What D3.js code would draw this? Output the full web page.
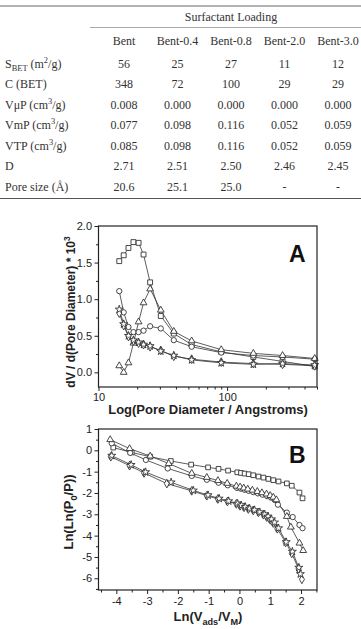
<!DOCTYPE html>
<html>
<head>
<meta charset="utf-8">
<script src="https://cdn.jsdelivr.net/npm/d3@7"></script>
<style>
body { margin: 0; background: #fff; }
svg { display: block; }
.tbl { font-family: "Liberation Serif", "DejaVu Serif", "Times New Roman", serif; font-size: 12px; fill: #333; }
.ax text { font-family: "Liberation Sans", Arial, sans-serif; font-size: 11px; fill: #222; }
.ax path { display: none; }
.ax line { stroke: #222; }
.ttl { font-family: "Liberation Sans", Arial, sans-serif; font-weight: bold; font-size: 13px; fill: #222; }
.tag { font-family: "Liberation Sans", Arial, sans-serif; font-weight: bold; font-size: 23px; fill: #111; }
</style>
</head>
<body>
<script>

// ---- table data ----
var tableCols = ["Bent", "Bent-0.4", "Bent-0.8", "Bent-2.0", "Bent-3.0"]
var tableRows = ["S_{BET} (m^{2}/g)", "C (BET)", "VμP (cm^{3}/g)", "VmP (cm^{3}/g)", "VTP (cm^{3}/g)", "D", "Pore size (Å)"]
var tableValues = [
    ["56", "25", "27", "11", "12"],
    ["348", "72", "100", "29", "29"],
    ["0.008", "0.000", "0.000", "0.000", "0.000"],
    ["0.077", "0.098", "0.116", "0.052", "0.059"],
    ["0.085", "0.098", "0.116", "0.052", "0.059"],
    ["2.71", "2.51", "2.50", "2.46", "2.45"],
    ["20.6", "25.1", "25.0", "-", "-"]
]

// ---- panel A: pore size distribution ----
var poreDiameter = [14.5, 15.7, 17.1, 18.7, 20.5, 22.4, 25.2, 30.5, 38.5, 53, 90, 160, 270, 480]
var psdSquare   = [1.52, 1.60, 1.70, 1.78, 1.77, 1.61, 1.23, 0.77, 0.53, 0.38, 0.28, 0.21, 0.15, 0.08]
var psdCircle   = [1.11, 0.82, 0.62, 0.55, 0.55, 0.57, 0.63, 0.60, 0.44, 0.35, 0.27, 0.23, 0.21, 0.18]
var psdTriangle = [0.09, 0.00, 0.13, 0.40, 0.69, 0.95, 1.14, 0.85, 0.56, 0.43, 0.31, 0.26, 0.23, 0.19]
var psdDiamond  = [0.81, 0.64, 0.49, 0.43, 0.40, 0.38, 0.35, 0.30, 0.22, 0.18, 0.14, 0.12, 0.11, 0.09]
var psdStar     = [0.86, 0.66, 0.50, 0.44, 0.41, 0.38, 0.36, 0.29, 0.23, 0.17, 0.13, 0.11, 0.12, 0.10]
var xTicksA = [10, 100]
var xMinorA = [20, 30, 40, 50, 60, 70, 80, 90, 200, 300, 400, 500]
var yTicksA = [0, 0.5, 1.0, 1.5, 2.0]
var yMinorA = [0.25, 0.75, 1.25, 1.75]

// ---- panel B: FHH plot ----
var fhhSquareX = [-4.1, -3.5, -2.9, -2.23, -1.57, -1.02, -0.68, -0.37, -0.07, 0.05, 0.17, 0.3, 0.45, 0.62, 0.78, 0.94, 1.1, 1.27, 1.54, 1.7, 1.95, 2.05]
var fhhSquareY = [0.13, -0.1, -0.3, -0.5, -0.67, -0.8, -0.87, -0.95, -1.03, -1.06, -1.09, -1.12, -1.17, -1.23, -1.28, -1.34, -1.4, -1.46, -1.55, -1.66, -1.98, -2.25]
var fhhCircleX = [-4.15, -3.55, -3.04, -2.33, -1.55, -1.06, -0.68, -0.38, -0.08, 0.05, 0.17, 0.3, 0.45, 0.6, 0.75, 0.9, 1.03, 1.15, 1.25, 1.54, 1.73, 1.95, 2.05]
var fhhCircleY = [0.33, -0.12, -0.45, -0.85, -1.2, -1.38, -1.52, -1.64, -1.76, -1.8, -1.85, -1.9, -1.96, -2.02, -2.08, -2.15, -2.22, -2.33, -2.55, -2.92, -3.13, -3.5, -3.65]
var fhhTriangleX = [-4.2, -3.57, -2.9, -2.3, -1.55, -1.06, -0.7, -0.4, -0.1, 0.02, 0.14, 0.27, 0.42, 0.58, 0.73, 0.88, 1.0, 1.1, 1.2, 1.54, 1.67, 1.95, 2.07]
var fhhTriangleY = [0.5, 0.08, -0.27, -0.62, -1.08, -1.27, -1.42, -1.55, -1.68, -1.72, -1.77, -1.82, -1.87, -1.93, -1.99, -2.05, -2.12, -2.2, -2.32, -3.1, -3.6, -4.35, -4.7]
var fhhDiamondX = [-4.18, -3.57, -3.1, -2.36, -1.55, -1.06, -0.7, -0.39, -0.1, 0.02, 0.15, 0.29, 0.45, 0.62, 0.78, 0.89, 1.0, 1.1, 1.23, 1.5, 1.7, 1.92, 2.03]
var fhhDiamondY = [-0.3, -0.72, -1.06, -1.56, -1.9, -2.13, -2.28, -2.4, -2.51, -2.6, -2.67, -2.75, -2.82, -2.91, -3.02, -3.13, -3.26, -3.41, -3.68, -4.32, -4.83, -5.56, -6.05]
var fhhStarX = [-4.15, -3.52, -3.05, -2.22, -1.5, -1.02, -0.66, -0.35, -0.06, 0.06, 0.19, 0.33, 0.49, 0.66, 0.82, 0.93, 1.04, 1.14, 1.27, 1.52, 1.72, 1.93, 1.98]
var fhhStarY = [-0.25, -0.68, -1.02, -1.5, -1.88, -2.1, -2.26, -2.38, -2.5, -2.58, -2.65, -2.73, -2.8, -2.9, -3.0, -3.1, -3.23, -3.38, -3.65, -4.3, -4.75, -5.5, -5.8]
var xTicksB = [-4, -3, -2, -1, 0, 1, 2]
var xMinorB = [-4.5, -3.5, -2.5, -1.5, -0.5, 0.5, 1.5, 2.5]
var yTicksB = [1, 0, -1, -2, -3, -4, -5, -6]
var yMinorB = [0.5, -0.5, -1.5, -2.5, -3.5, -4.5, -5.5, -6.5]

var svg = d3.select("body").append("svg")
    .attr("width", 361)
    .attr("height", 629)

// text with _{sub} and ^{sup} parts, shifts in px from the base font size
function richText(sel, str, base) {
    var parts = str.split(/(_\{[^}]*\}|\^\{[^}]*\})/).filter(function(s) { return s !== "" })
    var shift = 0
    parts.forEach(function(p) {
        var t = sel.append("tspan")
        var want = 0
        if (p[0] === "_" && p[1] === "{") {
            want = 0.3 * base
            t.attr("font-size", (0.7 * base) + "px").text(p.slice(2, -1))
        } else if (p[0] === "^" && p[1] === "{") {
            want = -0.4 * base
            t.attr("font-size", (0.7 * base) + "px").text(p.slice(2, -1))
        } else {
            t.attr("font-size", base + "px").text(p)
        }
        t.attr("dy", want - shift)
        shift = want
    })
}

// ---- table ----
var tbl = svg.append("g").attr("class", "tbl")
var colX = d3.scalePoint().domain(tableCols).range([124, 338])
var rowY = d3.scalePoint().domain(tableRows).range([63.5, 187])

tbl.append("line").attr("x1", 0).attr("x2", 361).attr("y1", 6).attr("y2", 6)
    .attr("stroke", "#999").attr("stroke-width", 1.5)
tbl.append("line").attr("x1", 90).attr("x2", 361).attr("y1", 27.5).attr("y2", 27.5)
    .attr("stroke", "#aaa").attr("stroke-width", 1)
tbl.append("line").attr("x1", 0).attr("x2", 361).attr("y1", 198.5).attr("y2", 198.5)
    .attr("stroke", "#555").attr("stroke-width", 1.2)

tbl.append("text").attr("x", 231).attr("y", 21).attr("text-anchor", "middle").text("Surfactant Loading")

tbl.selectAll(".colhead").data(tableCols).enter().append("text")
    .attr("class", "colhead")
    .attr("x", function(d) { return colX(d) })
    .attr("y", 45)
    .attr("text-anchor", "middle")
    .text(function(d) { return d })

tableRows.forEach(function(r, i) {
    var lbl = tbl.append("text").attr("x", 5).attr("y", rowY(r) + 4)
    richText(lbl, r, 12)
    tbl.selectAll(".v" + i).data(tableValues[i]).enter().append("text")
        .attr("x", function(d, j) { return colX(tableCols[j]) })
        .attr("y", rowY(r) + 4)
        .attr("text-anchor", "middle")
        .text(function(d) { return d })
})

// ---- shared chart helpers ----
var markStroke = "#333"

function frame(g, box) {
    g.append("rect")
        .attr("x", box.left).attr("y", box.top)
        .attr("width", box.right - box.left).attr("height", box.bottom - box.top)
        .attr("fill", "none").attr("stroke", "#222").attr("stroke-width", 1.2)
}

function plotSeries(g, series, x, y) {
    var line = d3.line().x(function(d) { return x(d[0]) }).y(function(d) { return y(d[1]) })
    series.forEach(function(s) {
        g.append("path").datum(s.pts)
            .attr("d", line)
            .attr("fill", "none").attr("stroke", markStroke).attr("stroke-width", 0.8)
    })
    series.forEach(function(s) {
        g.selectAll(null).data(s.pts).enter().append("path")
            .attr("transform", function(d) { return "translate(" + x(d[0]) + "," + y(d[1]) + ")" })
            .attr("d", d3.symbol().type(s.sym).size(s.size))
            .attr("fill", "#fff").attr("stroke", markStroke).attr("stroke-width", 0.9)
    })
}

// ---- panel A ----
var A = { left: 98.5, right: 317, top: 226, bottom: 387 }
var xA = d3.scaleLog().domain([10, 500]).range([A.left, A.right])
var yA = d3.scaleLinear().domain([-0.2, 2.0]).range([A.bottom, A.top])
var gA = svg.append("g")

gA.append("g").attr("class", "ax").attr("transform", "translate(0," + A.bottom + ")")
    .call(d3.axisBottom(xA).tickValues(xTicksA).tickFormat(d3.format("d")).tickSize(4).tickPadding(2))
gA.append("g").attr("class", "ax").attr("transform", "translate(0," + A.bottom + ")")
    .call(d3.axisBottom(xA).tickValues(xMinorA).tickFormat("").tickSize(2.5))
gA.append("g").attr("class", "ax").attr("transform", "translate(" + A.left + ",0)")
    .call(d3.axisLeft(yA).tickValues(yTicksA).tickFormat(d3.format(".1f")).tickSize(4).tickPadding(2.5))
gA.append("g").attr("class", "ax").attr("transform", "translate(" + A.left + ",0)")
    .call(d3.axisLeft(yA).tickValues(yMinorA).tickFormat("").tickSize(2.5))

function zipA(vals) { return poreDiameter.map(function(d, i) { return [d, vals[i]] }) }
plotSeries(gA, [
    { sym: d3.symbolSquare, size: 24, pts: zipA(psdSquare) },
    { sym: d3.symbolCircle, size: 22, pts: zipA(psdCircle) },
    { sym: d3.symbolTriangle, size: 20, pts: zipA(psdTriangle) },
    { sym: d3.symbolDiamond, size: 22, pts: zipA(psdDiamond) },
    { sym: d3.symbolStar, size: 20, pts: zipA(psdStar) }
], xA, yA)
frame(gA, A)

gA.append("text").attr("class", "tag").attr("x", 289).attr("y", 262).text("A")
gA.append("text").attr("class", "ttl").attr("x", 208).attr("y", 414)
    .attr("text-anchor", "middle").text("Log(Pore Diameter / Angstroms)")
var tA = gA.append("text").attr("class", "ttl").attr("text-anchor", "middle")
    .attr("transform", "translate(75," + 312 + ") rotate(-90)")
richText(tA, "dV / d(Pore Diameter) * 10^{3}", 12)

// ---- panel B ----
var B = { left: 98.5, right: 317, top: 429, bottom: 590 }
var xB = d3.scaleLinear().domain([-4.58, 2.52]).range([B.left, B.right])
var yB = d3.scaleLinear().domain([-6.55, 1.0]).range([B.bottom, B.top])
var gB = svg.append("g")

gB.append("g").attr("class", "ax").attr("transform", "translate(0," + B.bottom + ")")
    .call(d3.axisBottom(xB).tickValues(xTicksB).tickFormat(d3.format("d")).tickSize(4).tickPadding(3))
gB.append("g").attr("class", "ax").attr("transform", "translate(0," + B.bottom + ")")
    .call(d3.axisBottom(xB).tickValues(xMinorB).tickFormat("").tickSize(2.5))
gB.append("g").attr("class", "ax").attr("transform", "translate(" + B.left + ",0)")
    .call(d3.axisLeft(yB).tickValues(yTicksB).tickFormat(d3.format("d")).tickSize(4).tickPadding(2.5))
gB.append("g").attr("class", "ax").attr("transform", "translate(" + B.left + ",0)")
    .call(d3.axisLeft(yB).tickValues(yMinorB).tickFormat("").tickSize(2.5))

// minus signs as plain hyphens like the original
gB.selectAll(".ax text").text(function() { return d3.select(this).text().replace("−", "-") })

function zipB(xs, ys) { return xs.map(function(d, i) { return [d, ys[i]] }) }
plotSeries(gB, [
    { sym: d3.symbolSquare, size: 22, pts: zipB(fhhSquareX, fhhSquareY) },
    { sym: d3.symbolCircle, size: 22, pts: zipB(fhhCircleX, fhhCircleY) },
    { sym: d3.symbolTriangle, size: 20, pts: zipB(fhhTriangleX, fhhTriangleY) },
    { sym: d3.symbolDiamond, size: 22, pts: zipB(fhhDiamondX, fhhDiamondY) },
    { sym: d3.symbolStar, size: 20, pts: zipB(fhhStarX, fhhStarY) }
], xB, yB)
frame(gB, B)

gB.append("text").attr("class", "tag").attr("x", 289).attr("y", 463).text("B")
var xtB = gB.append("text").attr("class", "ttl").attr("x", 208).attr("y", 621).attr("text-anchor", "middle")
richText(xtB, "Ln(V_{ads}/V_{M})", 13)
var ytB = gB.append("text").attr("class", "ttl").attr("text-anchor", "middle")
    .attr("transform", "translate(73," + 512 + ") rotate(-90)")
richText(ytB, "Ln(Ln(P_{0}/P))", 13)

</script>
</body>
</html>
